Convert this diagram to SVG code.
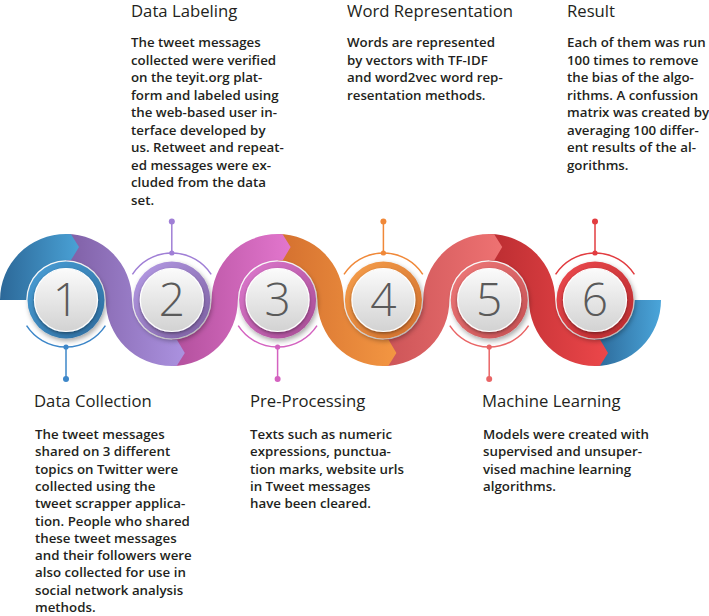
<svg xmlns="http://www.w3.org/2000/svg" width="709" height="616" viewBox="0 0 709 616">
<style>
.title{font-family:"Open Sans","Liberation Sans",sans-serif;font-size:16.7px;fill:#231f20}
.body{font-family:"Open Sans","Liberation Sans",sans-serif;font-size:13.3px;font-weight:600;fill:#231f20}
.num{font-family:"Open Sans","Liberation Sans",sans-serif;font-size:46px;font-weight:300;fill:#5a5a5a;text-anchor:middle}
.disc{fill:url(#gDisc);stroke:#ffffff;stroke-width:1.2;filter:url(#dsh)}
.br{fill:none;stroke-width:1.5}
</style>
<defs>
<filter id="sh" x="-30%" y="-30%" width="160%" height="160%"><feDropShadow dx="1.5" dy="2.5" stdDeviation="2.5" flood-color="#000" flood-opacity="0.35"/></filter>
<filter id="dsh" x="-30%" y="-30%" width="160%" height="160%"><feDropShadow dx="0" dy="1.5" stdDeviation="1.5" flood-color="#000" flood-opacity="0.4"/></filter>
<linearGradient id="gDisc" x1="0" y1="0" x2="0" y2="1"><stop offset="0" stop-color="#fbfbfb"/><stop offset="1" stop-color="#d2d2d2"/></linearGradient>
<linearGradient id="gBlue1" gradientUnits="userSpaceOnUse" x1="0" y1="0" x2="80" y2="0"><stop offset="0" stop-color="#2c6898"/><stop offset="1" stop-color="#4aa2d6"/></linearGradient>
<linearGradient id="gPurple" gradientUnits="userSpaceOnUse" x1="66" y1="0" x2="185" y2="0"><stop offset="0" stop-color="#7f5fa5"/><stop offset="1" stop-color="#ab92e0"/></linearGradient>
<linearGradient id="gMagenta" gradientUnits="userSpaceOnUse" x1="172" y1="0" x2="290" y2="0"><stop offset="0" stop-color="#b24f9c"/><stop offset="1" stop-color="#e276cd"/></linearGradient>
<linearGradient id="gOrange" gradientUnits="userSpaceOnUse" x1="278" y1="0" x2="396" y2="0"><stop offset="0" stop-color="#d4702f"/><stop offset="1" stop-color="#f39642"/></linearGradient>
<linearGradient id="gSalmon" gradientUnits="userSpaceOnUse" x1="383" y1="0" x2="502" y2="0"><stop offset="0" stop-color="#cc5457"/><stop offset="1" stop-color="#ee7272"/></linearGradient>
<linearGradient id="gRed" gradientUnits="userSpaceOnUse" x1="489" y1="0" x2="608" y2="0"><stop offset="0" stop-color="#bb2d31"/><stop offset="1" stop-color="#ec474a"/></linearGradient>
<linearGradient id="gBlue2" gradientUnits="userSpaceOnUse" x1="595" y1="0" x2="661" y2="0"><stop offset="0" stop-color="#2c6898"/><stop offset="1" stop-color="#4aa5da"/></linearGradient>
<linearGradient id="r1" x1="0" y1="0" x2="1" y2="1"><stop offset="0" stop-color="#4aa0d8"/><stop offset="1" stop-color="#2c6a9c"/></linearGradient>
<linearGradient id="r2" x1="0" y1="0" x2="1" y2="1"><stop offset="0" stop-color="#b79ee8"/><stop offset="1" stop-color="#7a5c9e"/></linearGradient>
<linearGradient id="r3" x1="0" y1="0" x2="1" y2="1"><stop offset="0" stop-color="#e07ad0"/><stop offset="1" stop-color="#a44a92"/></linearGradient>
<linearGradient id="r4" x1="0" y1="0" x2="1" y2="1"><stop offset="0" stop-color="#f7a04c"/><stop offset="1" stop-color="#cf6d2c"/></linearGradient>
<linearGradient id="r5" x1="0" y1="0" x2="1" y2="1"><stop offset="0" stop-color="#f07a7a"/><stop offset="1" stop-color="#c44f52"/></linearGradient>
<linearGradient id="r6" x1="0" y1="0" x2="1" y2="1"><stop offset="0" stop-color="#ee4a4e"/><stop offset="1" stop-color="#b72a2e"/></linearGradient>
</defs>
<rect width="709" height="616" fill="#ffffff"/>
<g id="connectors">
<path fill="url(#gBlue2)" d="M 595,366 A 66 66 0 0 0 661,300 L 634.8,300 A 39.8 39.8 0 0 1 595,339.8 Z"/>
<path fill="url(#gRed)" d="M 489.2,234 A 66 66 0 0 1 555.2,300 A 39.8 39.8 0 0 0 595,339.8 L 600,339.5 L 608,352.9 L 600,365.8 L 595,366 A 66 66 0 0 1 529,300 A 39.8 39.8 0 0 0 489.2,260.2 Z"/>
<path fill="url(#gSalmon)" d="M 383.4,366 A 66 66 0 0 0 449.4,300 A 39.8 39.8 0 0 1 489.2,260.2 L 494.2,260.5 L 502.2,247.1 L 494.2,234.2 L 489.2,234 A 66 66 0 0 0 423.2,300 A 39.8 39.8 0 0 1 383.4,339.8 Z"/>
<path fill="url(#gOrange)" d="M 277.6,234 A 66 66 0 0 1 343.6,300 A 39.8 39.8 0 0 0 383.4,339.8 L 388.4,339.5 L 396.4,352.9 L 388.4,365.8 L 383.4,366 A 66 66 0 0 1 317.4,300 A 39.8 39.8 0 0 0 277.6,260.2 Z"/>
<path fill="url(#gMagenta)" d="M 171.8,366 A 66 66 0 0 0 237.8,300 A 39.8 39.8 0 0 1 277.6,260.2 L 282.6,260.5 L 290.6,247.1 L 282.6,234.2 L 277.6,234 A 66 66 0 0 0 211.6,300 A 39.8 39.8 0 0 1 171.8,339.8 Z"/>
<path fill="url(#gPurple)" d="M 66,234 A 66 66 0 0 1 132,300 A 39.8 39.8 0 0 0 171.8,339.8 L 176.8,339.5 L 184.8,352.9 L 176.8,365.8 L 171.8,366 A 66 66 0 0 1 105.8,300 A 39.8 39.8 0 0 0 66,260.2 Z"/>
<path fill="url(#gBlue1)" d="M 0,300 A 66 66 0 0 1 66,234 L 71,234.2 L 79,247.1 L 71,260.1 L 66,260.2 A 39.8 39.8 0 0 0 26.2,300 Z"/>
</g>
<g id="node-1">
<path class="br" stroke="#3d87c9" d="M 26.6,325.6 A 47 47 0 0 0 105.4,325.6"/>
<line x1="66" y1="347" x2="66" y2="379" stroke="#3d87c9" stroke-width="1.5"/>
<circle cx="66" cy="347" r="2.6" fill="#3d87c9"/><circle cx="66" cy="379" r="3" fill="#3d87c9"/>
<circle cx="66" cy="300" r="38.5" fill="url(#r1)" filter="url(#sh)"/>
<circle class="disc" cx="66" cy="300" r="31.5"/>
<text class="num" x="66" y="316">1</text>
<text class="title" x="34" y="407">Data Collection</text>
<text class="body">
<tspan x="35" y="439">The tweet messages</tspan>
<tspan x="35" y="456.3">shared on 3 different</tspan>
<tspan x="35" y="473.6">topics on Twitter were</tspan>
<tspan x="35" y="490.9">collected using the</tspan>
<tspan x="35" y="508.2">tweet scrapper applica-</tspan>
<tspan x="35" y="525.5">tion. People who shared</tspan>
<tspan x="35" y="542.8">these tweet messages</tspan>
<tspan x="35" y="560.1">and their followers were</tspan>
<tspan x="35" y="577.4">also collected for use in</tspan>
<tspan x="35" y="594.7">social network analysis</tspan>
<tspan x="35" y="612">methods.</tspan>
</text>
</g>
<g id="node-2">
<path class="br" stroke="#a07fd6" d="M 132.4,274.4 A 47 47 0 0 1 211.2,274.4"/>
<line x1="171.8" y1="253" x2="171.8" y2="221.5" stroke="#a07fd6" stroke-width="1.5"/>
<circle cx="171.8" cy="253" r="2.6" fill="#a07fd6"/><circle cx="171.8" cy="221.5" r="3" fill="#a07fd6"/>
<circle cx="171.8" cy="300" r="38.5" fill="url(#r2)" filter="url(#sh)"/>
<circle class="disc" cx="171.8" cy="300" r="31.5"/>
<text class="num" x="171.8" y="316">2</text>
<text class="title" x="131" y="16.7">Data Labeling</text>
<text class="body">
<tspan x="131" y="47">The tweet messages</tspan>
<tspan x="131" y="64.5">collected were verified</tspan>
<tspan x="131" y="82">on the teyit.org plat-</tspan>
<tspan x="131" y="99.5">form and labeled using</tspan>
<tspan x="131" y="117">the web-based user in-</tspan>
<tspan x="131" y="134.5">terface developed by</tspan>
<tspan x="131" y="152">us. Retweet and repeat-</tspan>
<tspan x="131" y="169.5">ed messages were ex-</tspan>
<tspan x="131" y="187">cluded from the data</tspan>
<tspan x="131" y="204.5">set.</tspan>
</text>
</g>
<g id="node-3">
<path class="br" stroke="#d462c0" d="M 238.2,325.6 A 47 47 0 0 0 317,325.6"/>
<line x1="277.6" y1="347" x2="277.6" y2="379" stroke="#d462c0" stroke-width="1.5"/>
<circle cx="277.6" cy="347" r="2.6" fill="#d462c0"/><circle cx="277.6" cy="379" r="3" fill="#d462c0"/>
<circle cx="277.6" cy="300" r="38.5" fill="url(#r3)" filter="url(#sh)"/>
<circle class="disc" cx="277.6" cy="300" r="31.5"/>
<text class="num" x="277.6" y="316">3</text>
<text class="title" x="250" y="407">Pre-Processing</text>
<text class="body">
<tspan x="250" y="439">Texts such as numeric</tspan>
<tspan x="250" y="456.3">expressions, punctua-</tspan>
<tspan x="250" y="473.6">tion marks, website urls</tspan>
<tspan x="250" y="490.9">in Tweet messages</tspan>
<tspan x="250" y="508.2">have been cleared.</tspan>
</text>
</g>
<g id="node-4">
<path class="br" stroke="#f08838" d="M 344,274.4 A 47 47 0 0 1 422.8,274.4"/>
<line x1="383.4" y1="253" x2="383.4" y2="221.5" stroke="#f08838" stroke-width="1.5"/>
<circle cx="383.4" cy="253" r="2.6" fill="#f08838"/><circle cx="383.4" cy="221.5" r="3" fill="#f08838"/>
<circle cx="383.4" cy="300" r="38.5" fill="url(#r4)" filter="url(#sh)"/>
<circle class="disc" cx="383.4" cy="300" r="31.5"/>
<text class="num" x="383.4" y="316">4</text>
<text class="title" x="347" y="16.7">Word Representation</text>
<text class="body">
<tspan x="347" y="47">Words are represented</tspan>
<tspan x="347" y="64.5">by vectors with TF-IDF</tspan>
<tspan x="347" y="82">and word2vec word rep-</tspan>
<tspan x="347" y="99.5">resentation methods.</tspan>
</text>
</g>
<g id="node-5">
<path class="br" stroke="#e96566" d="M 449.8,325.6 A 47 47 0 0 0 528.6,325.6"/>
<line x1="489.2" y1="347" x2="489.2" y2="379" stroke="#e96566" stroke-width="1.5"/>
<circle cx="489.2" cy="347" r="2.6" fill="#e96566"/><circle cx="489.2" cy="379" r="3" fill="#e96566"/>
<circle cx="489.2" cy="300" r="38.5" fill="url(#r5)" filter="url(#sh)"/>
<circle class="disc" cx="489.2" cy="300" r="31.5"/>
<text class="num" x="489.2" y="316">5</text>
<text class="title" x="482" y="407">Machine Learning</text>
<text class="body">
<tspan x="483" y="439">Models were created with</tspan>
<tspan x="483" y="456.3">supervised and unsuper-</tspan>
<tspan x="483" y="473.6">vised machine learning</tspan>
<tspan x="483" y="490.9">algorithms.</tspan>
</text>
</g>
<g id="node-6">
<path class="br" stroke="#e23c40" d="M 555.6,274.4 A 47 47 0 0 1 634.4,274.4"/>
<line x1="595" y1="253" x2="595" y2="221.5" stroke="#e23c40" stroke-width="1.5"/>
<circle cx="595" cy="253" r="2.6" fill="#e23c40"/><circle cx="595" cy="221.5" r="3" fill="#e23c40"/>
<circle cx="595" cy="300" r="38.5" fill="url(#r6)" filter="url(#sh)"/>
<circle class="disc" cx="595" cy="300" r="31.5"/>
<text class="num" x="595" y="316">6</text>
<text class="title" x="567" y="16.7">Result</text>
<text class="body">
<tspan x="567" y="47">Each of them was run</tspan>
<tspan x="567" y="64.5">100 times to remove</tspan>
<tspan x="567" y="82">the bias of the algo-</tspan>
<tspan x="567" y="99.5">rithms. A confussion</tspan>
<tspan x="567" y="117">matrix was created by</tspan>
<tspan x="567" y="134.5">averaging 100 differ-</tspan>
<tspan x="567" y="152">ent results of the al-</tspan>
<tspan x="567" y="169.5">gorithms.</tspan>
</text>
</g>
</svg>
